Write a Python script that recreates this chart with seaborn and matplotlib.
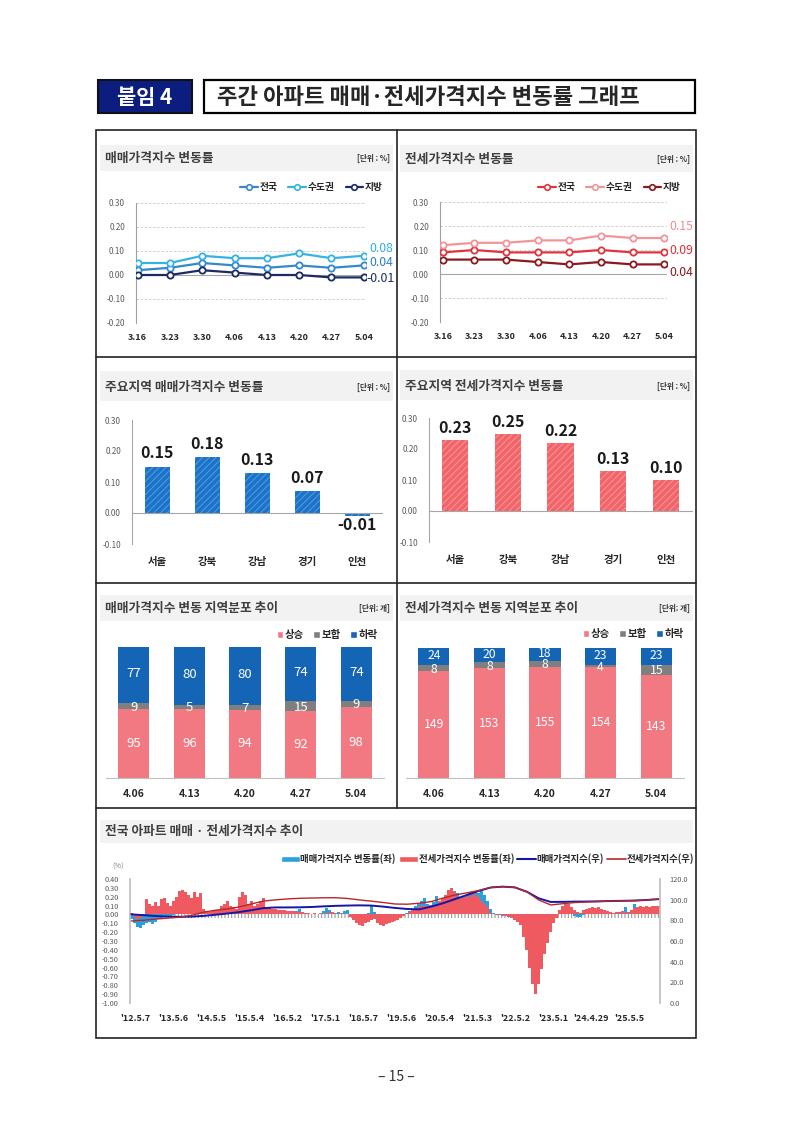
import numpy as np
import seaborn as sns
import matplotlib.pyplot as plt
from matplotlib.patches import Rectangle, Patch
from matplotlib.lines import Line2D

sns.set_theme(style="white")
plt.rcParams['font.family'] = ['Noto Sans CJK KR', 'DejaVu Sans']
plt.rcParams['axes.unicode_minus'] = False
plt.rcParams['hatch.linewidth'] = 0.8

# ---- data: weekly change rate (top line charts)
weeks = ["3.16", "3.23", "3.30", "4.06", "4.13", "4.20", "4.27", "5.04"]
area_names = ["전국", "수도권", "지방"]
sale_all = [0.02, 0.03, 0.05, 0.04, 0.03, 0.04, 0.03, 0.04]
sale_metro = [0.05, 0.05, 0.08, 0.07, 0.07, 0.09, 0.07, 0.08]
sale_local = [0.00, 0.00, 0.02, 0.01, 0.00, 0.00, -0.01, -0.01]
rent_all = [0.09, 0.10, 0.09, 0.09, 0.09, 0.10, 0.09, 0.09]
rent_metro = [0.12, 0.13, 0.13, 0.14, 0.14, 0.16, 0.15, 0.15]
rent_local = [0.06, 0.06, 0.06, 0.05, 0.04, 0.05, 0.04, 0.04]

# ---- data: main regions
regions = ["서울", "강북", "강남", "경기", "인천"]
region_sale = [0.15, 0.18, 0.13, 0.07, -0.01]
region_rent = [0.23, 0.25, 0.22, 0.13, 0.10]

# ---- data: number of regions up / flat / down
dist_weeks = ["4.06", "4.13", "4.20", "4.27", "5.04"]
dist_names = ["상승", "보합", "하락"]
sale_up = [95, 96, 94, 92, 98]
sale_flat = [9, 5, 7, 15, 9]
sale_down = [77, 80, 80, 74, 74]
rent_up = [149, 153, 155, 154, 143]
rent_flat = [8, 8, 8, 4, 15]
rent_down = [24, 20, 18, 23, 23]

# ---- data: long-term trend (approx. every 4 weeks)
long_ticks = ["'12.5.7", "'13.5.6", "'14.5.5", "'15.5.4", "'16.5.2", "'17.5.1", "'18.5.7",
              "'19.5.6", "'20.5.4", "'21.5.3", "'22.5.2", "'23.5.1", "'24.4.29", "'25.5.5"]
long_sale_chg = [
    -0.05, -0.10, -0.14, -0.15, -0.12, -0.10, -0.08, -0.11, -0.09,
    -0.05, -0.04, -0.03, -0.03, -0.02, -0.01, 0.00, 0.02, 0.03, 0.02, 0.03, 0.04, 0.03, 0.02, 0.03, 0.04,
    0.03, 0.02, 0.02, 0.03, 0.04, 0.05, 0.04, 0.03, 0.04, 0.05, 0.06, 0.07, 0.08, 0.07, 0.06, 0.06,
    0.07, 0.08, 0.09, 0.08,
    0.05, 0.04, 0.04, 0.03, 0.03, 0.02, 0.02, 0.03, 0.02, 0.03, 0.04, 0.06, 0.03, 0.02, 0.01, 0.01,
    0.02, 0.01, 0.02, 0.04, 0.07, 0.05, 0.03, 0.02, 0.03, 0.02, 0.04, 0.05,
    -0.01, -0.02, -0.03, -0.03, -0.02, -0.01, 0.02, 0.10, 0.03, -0.01, -0.03, -0.04, -0.05, -0.04,
    -0.04, -0.03,
    -0.03, -0.02, -0.01, 0.02, 0.04, 0.06, 0.09, 0.12, 0.15, 0.19,
    0.12, 0.10, 0.14, 0.21, 0.15, 0.18, 0.20, 0.22, 0.25, 0.27, 0.24, 0.20,
    0.20, 0.22, 0.25, 0.26, 0.25, 0.24, 0.26, 0.22, 0.15,
    0.06, 0.02, 0.00, -0.01, -0.02, -0.02, -0.03,
    -0.04, -0.05, -0.07, -0.10, -0.18, -0.28, -0.40, -0.50, -0.55, -0.50, -0.40, -0.30, -0.20, -0.12,
    -0.06, -0.02,
    0.02, 0.05, 0.08, 0.07, 0.04,
    -0.02, -0.03, -0.03,
    -0.01, 0.00, 0.01, 0.02, 0.01, 0.02, 0.01, 0.02, 0.02,
    0.02, 0.01, 0.02, 0.03, 0.02, 0.08, 0.03,
    0.04, 0.12, 0.05, 0.04, 0.05, 0.04, 0.05, 0.06, 0.05, 0.06]
long_rent_chg = [
    0.02, -0.03, -0.05, -0.04, 0.00,
    0.17, 0.12, 0.10, 0.14, 0.10, 0.17, 0.18, 0.13, 0.10, 0.15, 0.20, 0.26, 0.28, 0.25, 0.22, 0.18,
    0.25, 0.20, 0.24, 0.06,
    0.04, 0.03, 0.04, 0.05,
    0.05, 0.10, 0.12, 0.15, 0.10, 0.08, 0.06,
    0.20, 0.25, 0.22,
    0.12, 0.15, 0.10, 0.12, 0.15, 0.19,
    0.08, 0.07, 0.06, 0.06, 0.05, 0.05, 0.05, 0.04, 0.04, 0.04, 0.03, 0.03, 0.03, 0.02, 0.02,
    0.01, 0.02, 0.01, 0.02, 0.01, 0.02, 0.02, 0.03, 0.02, 0.01, 0.02, 0.01, 0.00,
    -0.03, -0.06, -0.10, -0.12, -0.13, -0.10, -0.08, -0.06,
    -0.05, -0.10, -0.12, -0.13, -0.11, -0.10, -0.09, -0.07,
    -0.06, -0.04, -0.02,
    0.00, 0.03, 0.05, 0.06, 0.08, 0.10, 0.10,
    0.10, 0.11, 0.10, 0.12,
    0.15, 0.18, 0.22, 0.28, 0.30, 0.25, 0.20, 0.18,
    0.18, 0.22, 0.20, 0.25, 0.22, 0.20, 0.15, 0.12, 0.08,
    0.02, 0.00, -0.01, -0.01, -0.01, -0.02, -0.02,
    -0.04, -0.06, -0.08, -0.12, -0.25, -0.40, -0.60, -0.78, -0.90, -0.78, -0.62, -0.45, -0.32, -0.20,
    -0.10, -0.04,
    0.05, 0.10, 0.13, 0.12, 0.08,
    0.05, 0.03, 0.02,
    0.05, 0.06, 0.07, 0.08, 0.07, 0.08, 0.06, 0.05, 0.04,
    0.03, 0.02, 0.03, 0.02, 0.04, 0.03, 0.02,
    0.05, 0.07, 0.08, 0.09, 0.08, 0.09, 0.08, 0.09, 0.10, 0.09]
# index lines, one value every 4 bars
long_sale_idx = [85.8, 85.0, 84.2, 83.6, 83.4, 83.6, 84.3, 85.4, 86.6, 88.0, 89.8, 91.8, 92.5, 92.5,
                 92.6, 92.9, 93.5, 94.0, 94.3, 94.5, 94.3, 93.3, 92.0, 91.0, 90.6, 93.2, 96.5, 100.5,
                 104.5, 108.5, 111.8, 112.6, 111.9, 107.7, 101.3, 97.8, 97.9, 98.1, 98.2, 98.4, 98.7,
                 98.9, 99.1, 99.7, 100.5]
long_rent_idx = [79.4, 80.1, 81.2, 82.1, 83.0, 84.8, 87.8, 89.8, 91.0, 93.0, 95.8, 98.6, 99.8, 100.7,
                 101.3, 101.6, 101.8, 101.9, 101.2, 99.8, 98.6, 97.3, 95.8, 95.6, 96.5, 98.1, 101.5,
                 104.5, 106.6, 108.9, 111.8, 112.6, 111.9, 107.7, 99.7, 94.9, 96.1, 97.2, 97.8, 98.2,
                 98.7, 98.9, 99.1, 99.7, 100.6]
left_ticks = [0.40, 0.30, 0.20, 0.10, 0.00, -0.10, -0.20, -0.30, -0.40, -0.50, -0.60, -0.70, -0.80,
              -0.90, -1.00]
right_ticks = [0, 20, 40, 60, 80, 100, 120]

W, H = 793, 1121
fig = plt.figure(figsize=(W / 100, H / 100), dpi=100)
bg = fig.add_axes([0, 0, 1, 1])
bg.set_xlim(0, W)
bg.set_ylim(H, 0)
bg.axis('off')


def pax(x0, y0, x1, y1):
    a = fig.add_axes([x0 / W, 1 - y1 / H, (x1 - x0) / W, (y1 - y0) / H])
    a.set_facecolor('none')
    return a


def box(x0, y0, x1, y1, **kw):
    bg.add_patch(Rectangle((x0, y0), x1 - x0, y1 - y0, **kw))


# header
box(98, 80, 192, 113, facecolor='#0B1D7E', edgecolor='#111111', lw=1.5)
bg.text(145, 97, "붙임 4", color='white', fontsize=15, fontweight='bold', ha='center', va='center')
box(204, 80, 695, 113, facecolor='white', edgecolor='black', lw=1.6)
bg.text(217, 97, "주간 아파트 매매·전세가격지수 변동률 그래프", fontsize=16, fontweight='bold',
        ha='left', va='center')

# frame
box(96, 130, 696, 1038, facecolor='none', edgecolor='#222222', lw=1.2)
bg.plot([397, 397], [130, 808], color='#222222', lw=1.2)
for yy in [357, 583, 808]:
    bg.plot([96, 696], [yy, yy], color='#222222', lw=1.2)

# panel title bands
bands = [(100, 145, 393, 171, 158, "매매가격지수 변동률", "[단위 : %]"),
         (400, 145, 693, 172, 159, "전세가격지수 변동률", "[단위 : %]"),
         (100, 371, 393, 401, 387, "주요지역 매매가격지수 변동률", "[단위 : %]"),
         (400, 370, 693, 400, 386, "주요지역 전세가격지수 변동률", "[단위 : %]"),
         (100, 595, 393, 621, 608, "매매가격지수 변동 지역분포 추이", "[단위: 개]"),
         (400, 595, 693, 621, 608, "전세가격지수 변동 지역분포 추이", "[단위: 개]"),
         (100, 820, 693, 843, 831, "전국 아파트 매매 · 전세가격지수 추이", "")]
for x0, y0, x1, y1, ty, title, unit in bands:
    box(x0, y0, x1, y1, facecolor='#F2F2F2', edgecolor='none')
    bg.text(x0 + 5, ty, title, fontsize=9.2, fontweight='bold', color='#3F3F3F', ha='left', va='center')
    if unit:
        bg.text(x1 - 3, ty, unit, fontsize=5.5, fontweight='bold', color='#333333', ha='right', va='center')


def line_panel(px, xlim, series, colors, legend_right, ends):
    ax = pax(*px)
    xs = np.arange(len(weeks))
    for vals, c in zip(series, colors):
        sns.lineplot(x=xs, y=vals, ax=ax, color=c, lw=1.6, marker='o', markersize=4.5,
                     markerfacecolor='white', markeredgecolor=c, markeredgewidth=1.3, zorder=3)
    ax.set_ylim(-0.2, 0.3)
    ax.set_xlim(*xlim)
    for yv in [0.3, 0.2, 0.1, -0.1]:
        ax.axhline(yv, color='#C8C8C8', lw=0.6, ls=(0, (3, 2)), zorder=1)
    ax.axhline(0, color='#A6A6A6', lw=0.8, zorder=1)
    yt = [0.3, 0.2, 0.1, 0.0, -0.1, -0.2]
    ax.set_yticks(yt)
    ax.set_yticklabels([f"{v:.2f}" for v in yt], fontsize=5.8, color='#595959')
    ax.set_xticks(xs)
    ax.set_xticklabels(weeks, fontsize=6.5, fontweight='bold', color='#262626')
    ax.tick_params(axis='x', length=0, pad=7)
    ax.tick_params(axis='y', length=3, width=0.6, color='#A0A0A0', pad=5)
    for s in ['top', 'right', 'bottom']:
        ax.spines[s].set_visible(False)
    ax.spines['left'].set_color('#A0A0A0')
    ax.spines['left'].set_linewidth(0.8)
    handles = [Line2D([], [], color=c, lw=1.6, marker='o', markersize=4, markerfacecolor='white',
                      markeredgecolor=c, markeredgewidth=1.2) for c in colors]
    ax.legend(handles, area_names, ncol=3, loc='center right',
              bbox_to_anchor=(legend_right / W, 1 - 187 / H), bbox_transform=fig.transFigure,
              frameon=False, prop={'size': 7, 'weight': 'bold'}, handlelength=1.8,
              handletextpad=0.2, columnspacing=1.1, borderpad=0, borderaxespad=0)
    for (tx, ty, txt, c) in ends:
        bg.text(tx, ty, txt, fontsize=8.8, color=c, ha='left', va='center')
    return ax


line_panel((136, 203, 366, 323), (-0.05, 7.07), [sale_all, sale_metro, sale_local],
           ['#3588CE', '#35B3E3', '#1C2B62'], 383,
           [(369, 248, "0.08", '#2DB0E0'), (369, 263, "0.04", '#2D7FC3'), (366, 279, "-0.01", '#1C2B62')])
line_panel((440, 202, 667, 322), (-0.09, 7.09), [rent_all, rent_metro, rent_local],
           ['#E0343E', '#F2959B', '#8B1A1E'], 681,
           [(669, 226, "0.15", '#F08C93'), (669, 250, "0.09", '#DD3039'), (669, 272, "0.04", '#8B1A1E')])


def bar_panel(px, vals, color, hatch_col, lab_off, xlab_y):
    ax = pax(*px)
    sns.barplot(x=regions, y=vals, ax=ax, color=color, saturation=1, width=0.5,
                hatch='/////', edgecolor=hatch_col, linewidth=0, zorder=2)
    ax.set_ylim(-0.1, 0.3)
    ax.set_xlim(-0.5, 4.5)
    ax.set_xlabel("")
    ax.set_ylabel("")
    yt = [0.3, 0.2, 0.1, 0.0, -0.1]
    ax.set_yticks(yt)
    ax.set_yticklabels([f"{v:.2f}" for v in yt], fontsize=5.8, color='#595959')
    ax.set_xticks([0.5, 1.5, 2.5, 3.5, 4.5])
    ax.set_xticklabels([])
    ax.spines['bottom'].set_position(('data', 0))
    for s in ['top', 'right']:
        ax.spines[s].set_visible(False)
    for s in ['left', 'bottom']:
        ax.spines[s].set_color('#A6A6A6')
        ax.spines[s].set_linewidth(0.8)
    ax.tick_params(axis='x', length=3, width=0.6, color='#A6A6A6', direction='out')
    ax.tick_params(axis='y', length=3, width=0.6, color='#A6A6A6', pad=5)
    for i, (r, v) in enumerate(zip(regions, vals)):
        ty = v + lab_off if v >= 0 else v - 0.028
        ax.text(i, ty, f"{v:.2f}", ha='center', va='center', fontsize=11.5, fontweight='bold',
                color='#1A1A1A')
        ax.text(i, xlab_y, r, transform=ax.get_xaxis_transform(), ha='center', va='center',
                fontsize=7.5, fontweight='bold', color='#262626')
    return ax


bar_panel((132, 420, 382, 544), region_sale, '#1B74C9', '#4F97DB', 0.042, -0.143)
bar_panel((429, 418, 692, 542), region_rent, '#F26468', '#F79296', 0.038, -0.145)

C_UP, C_FLAT, C_DOWN = '#F27981', '#7F7F7F', '#1565B7'


def dist_panel(px, up, flat, down, legend_right, legend_y, fs):
    ax = pax(*px)
    mid = np.add(up, flat)
    total = np.add(mid, down)
    sns.barplot(x=dist_weeks, y=total, ax=ax, color=C_DOWN, saturation=1, width=0.56, linewidth=0)
    sns.barplot(x=dist_weeks, y=mid, ax=ax, color=C_FLAT, saturation=1, width=0.56, linewidth=0)
    sns.barplot(x=dist_weeks, y=up, ax=ax, color=C_UP, saturation=1, width=0.56, linewidth=0)
    ax.set_ylim(0, total.max())
    ax.set_xlim(-0.5, 4.5)
    ax.set_xlabel("")
    ax.set_ylabel("")
    ax.set_yticks([])
    ax.set_xticks(range(len(dist_weeks)))
    ax.set_xticklabels(dist_weeks, fontsize=7.5, fontweight='bold', color='#262626')
    ax.tick_params(axis='x', length=0, pad=8)
    for s in ['top', 'right', 'left']:
        ax.spines[s].set_visible(False)
    ax.spines['bottom'].set_color('#C0C0C0')
    ax.spines['bottom'].set_linewidth(0.8)
    for i in range(len(dist_weeks)):
        ax.text(i, up[i] / 2, str(up[i]), ha='center', va='center', fontsize=fs, color='white')
        ax.text(i, up[i] + flat[i] / 2 - 1.5, str(flat[i]), ha='center', va='center', fontsize=fs,
                color='white')
        ax.text(i, mid[i] + down[i] / 2 + 1.5, str(down[i]), ha='center', va='center', fontsize=fs,
                color='white')
    handles = [Patch(facecolor=c) for c in [C_UP, C_FLAT, C_DOWN]]
    ax.legend(handles, dist_names, ncol=3, loc='center right',
              bbox_to_anchor=(legend_right / W, 1 - legend_y / H), bbox_transform=fig.transFigure,
              frameon=False, prop={'size': 7.5, 'weight': 'bold'}, handlelength=0.6, handleheight=0.6,
              handletextpad=0.2, columnspacing=0.9, borderpad=0, borderaxespad=0)
    return ax


dist_panel((106, 647, 384, 778), sale_up, sale_flat, sale_down, 378, 635, 9.5)
dist_panel((406, 648, 684, 778), rent_up, rent_flat, rent_down, 684, 634, 8.8)

# long-term trend chart
ax7 = pax(130, 879, 660, 1003)
n = len(long_sale_chg)
xs = np.arange(n)
ax7.axhspan(-0.045, 0, facecolor='none', edgecolor='#9A9A9A', hatch='|||||', lw=0, zorder=1)
ax7.bar(xs, long_sale_chg, width=1.0, color='#2CA0DA', linewidth=0, zorder=2)
ax7.bar(xs, long_rent_chg, width=1.0, color='#EE5A60', linewidth=0, zorder=3)
ax7.set_ylim(-1.0, 0.4)
ax7.set_xlim(-0.5, n - 0.5)
ax7.set_yticks(left_ticks)
ax7.set_yticklabels([f"{v:.2f}" for v in left_ticks], fontsize=5.3, color='#595959')
ax7.set_xticks(np.arange(len(long_ticks)) * 12.7 + 1.2)
ax7.set_xticklabels(long_ticks, fontsize=6.5, fontweight='bold', color='#262626')
ax7.tick_params(axis='x', length=0, pad=8)
ax7.tick_params(axis='y', length=0, pad=8)
for s in ['top', 'right', 'bottom']:
    ax7.spines[s].set_visible(False)
ax7.spines['left'].set_color('#BFBFBF')

ax7b = ax7.twinx()
ix = np.arange(len(long_sale_idx)) * 4
sns.lineplot(x=ix, y=long_sale_idx, ax=ax7b, color='#1616A6', lw=1.4)
sns.lineplot(x=ix, y=long_rent_idx, ax=ax7b, color='#B8262C', lw=1.0)
ax7b.set_ylim(0, 120)
ax7b.set_xlim(-0.5, n - 0.5)
ax7b.set_yticks(right_ticks)
ax7b.set_yticklabels([f"{v:.1f}" for v in right_ticks], fontsize=5.3, color='#595959')
ax7b.tick_params(axis='y', length=0, pad=7)
for s in ['top', 'left', 'bottom']:
    ax7b.spines[s].set_visible(False)
ax7b.spines['right'].set_color('#BFBFBF')
ax7b.set_ylabel("")

handles = [Patch(facecolor='#2CA0DA'), Patch(facecolor='#EE5A60'),
           Line2D([], [], color='#1616A6', lw=1.5), Line2D([], [], color='#B8262C', lw=1.2)]
labels = ["매매가격지수 변동률(좌)", "전세가격지수 변동률(좌)", "매매가격지수(우)", "전세가격지수(우)"]
ax7.legend(handles, labels, ncol=4, loc='center right',
           bbox_to_anchor=(694 / W, 1 - 859 / H), bbox_transform=fig.transFigure,
           frameon=False, prop={'size': 6.8, 'weight': 'bold'}, handlelength=2.0, handleheight=0.5,
           handletextpad=0.1, columnspacing=0.3, borderpad=0, borderaxespad=0)
bg.text(112, 867, "(%)", fontsize=5.3, color='#7F7F7F', ha='left', va='center')

# page number
bg.text(396, 1077, "– 15 –", fontsize=10, color='#333333', ha='center', va='center')

fig.savefig("out.png", dpi=100)
